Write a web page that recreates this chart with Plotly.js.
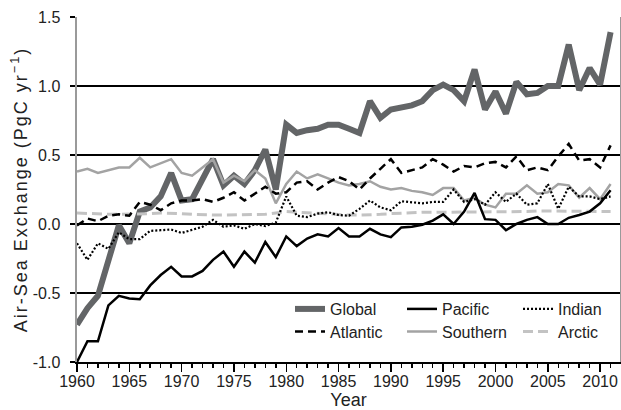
<!DOCTYPE html>
<html>
<head>
<meta charset="utf-8">
<script src="https://cdn.plot.ly/plotly-3.0.1.min.js"></script>
<style>
html, body { margin: 0; padding: 0; background: #fff; }
#chart { width: 621px; height: 410px; }
.ytitle { letter-spacing: 2px; }
</style>
</head>
<body>
<div id="chart"></div>
<script>
const years = [1960,1961,1962,1963,1964,1965,1966,1967,1968,1969,
  1970,1971,1972,1973,1974,1975,1976,1977,1978,1979,
  1980,1981,1982,1983,1984,1985,1986,1987,1988,1989,
  1990,1991,1992,1993,1994,1995,1996,1997,1998,1999,
  2000,2001,2002,2003,2004,2005,2006,2007,2008,2009,
  2010,2011];

const globalFlux = [-0.73,-0.61,-0.52,-0.26,-0.01,-0.14,0.09,0.12,0.20,0.37,
  0.17,0.18,0.32,0.47,0.28,0.35,0.29,0.39,0.54,0.25,
  0.72,0.66,0.68,0.69,0.72,0.72,0.69,0.66,0.89,0.77,
  0.83,0.84,0.86,0.89,0.97,1.01,0.97,0.89,1.12,0.83,
  0.96,0.80,1.03,0.94,0.95,1.00,1.00,1.30,0.97,1.13,
  1.01,1.39];

const pacific = [-1.00,-0.85,-0.85,-0.59,-0.52,-0.54,-0.545,-0.445,-0.37,-0.31,
  -0.38,-0.38,-0.34,-0.26,-0.20,-0.31,-0.20,-0.28,-0.13,-0.24,
  -0.09,-0.16,-0.105,-0.075,-0.09,-0.03,-0.09,-0.09,-0.035,-0.075,
  -0.095,-0.025,-0.02,-0.005,0.025,0.07,0.0,0.09,0.225,0.035,
  0.03,-0.045,0.0,0.03,0.05,0.0,0.0,0.045,0.065,0.09,
  0.15,0.245];

const indian = [-0.14,-0.26,-0.14,-0.18,-0.06,-0.11,-0.11,-0.05,-0.045,-0.04,
  -0.065,-0.045,-0.02,0.03,-0.02,-0.01,-0.035,0.0,-0.015,0.01,
  0.20,0.06,0.05,0.075,0.085,0.065,0.06,0.11,0.17,0.12,
  0.10,0.165,0.16,0.15,0.16,0.16,0.25,0.16,0.18,0.14,
  0.23,0.16,0.22,0.14,0.15,0.29,0.11,0.27,0.20,0.20,
  0.18,0.20];

const atlantic = [-0.01,0.04,0.02,0.06,0.07,0.06,0.16,0.14,0.10,0.15,
  0.17,0.17,0.18,0.16,0.19,0.23,0.17,0.22,0.27,0.22,
  0.23,0.30,0.31,0.25,0.30,0.34,0.31,0.25,0.33,0.40,
  0.47,0.37,0.39,0.41,0.47,0.43,0.38,0.42,0.41,0.44,
  0.45,0.41,0.49,0.39,0.41,0.39,0.49,0.58,0.46,0.47,
  0.41,0.57];

const southern = [0.38,0.40,0.37,0.39,0.41,0.41,0.48,0.41,0.44,0.47,
  0.37,0.35,0.41,0.47,0.30,0.35,0.31,0.39,0.33,0.15,
  0.29,0.38,0.33,0.36,0.33,0.30,0.28,0.29,0.31,0.27,
  0.25,0.26,0.24,0.23,0.21,0.26,0.26,0.17,0.19,0.14,
  0.12,0.22,0.22,0.28,0.22,0.23,0.29,0.28,0.19,0.26,
  0.18,0.29];

const arctic = [0.08,0.075,0.075,0.07,0.07,0.07,0.075,0.075,0.08,0.08,
  0.075,0.07,0.065,0.065,0.065,0.065,0.065,0.07,0.07,0.08,
  0.09,0.085,0.08,0.075,0.075,0.07,0.065,0.065,0.065,0.07,
  0.075,0.08,0.08,0.085,0.085,0.085,0.085,0.085,0.09,0.09,
  0.09,0.09,0.09,0.09,0.095,0.095,0.09,0.09,0.09,0.09,
  0.09,0.09];

const yTickVals = [-1.0,-0.5,0.0,0.5,1.0,1.5];
const yTickText = ["-1.0","-0.5","0.0","0.5","1.0","1.5"];
const xTickVals = [1960,1965,1970,1975,1980,1985,1990,1995,2000,2005,2010];
const xTickText = ["1960","1965","1970","1975","1980","1985","1990","1995","2000","2005","2010"];

const FONT = '"Liberation Sans", Arial, sans-serif';

const traces = [
  {name:'Global', x:years, y:globalFlux, mode:'lines', legend:'legend', legendrank:1, legendwidth:67,
   line:{color:'#636567', width:6}},
  {name:'Southern', x:years, y:southern, mode:'lines', legend:'legend2', legendrank:2, legendwidth:71,
   line:{color:'#a3a3a3', width:2.5}},
  {name:'Arctic', x:years, y:arctic, mode:'lines', legend:'legend2', legendrank:3, legendwidth:46,
   line:{color:'#c3c3c3', width:3, dash:'10px,5px'}},
  {name:'Atlantic', x:years, y:atlantic, mode:'lines', legend:'legend2', legendrank:1, legendwidth:67,
   line:{color:'#000000', width:2.5, dash:'8px,5px'}},
  {name:'Indian', x:years, y:indian, mode:'lines', legend:'legend', legendrank:3, legendwidth:46,
   line:{color:'#000000', width:2.2, dash:'2px,2px'}},
  {name:'Pacific', x:years, y:pacific, mode:'lines', legend:'legend', legendrank:2, legendwidth:71,
   line:{color:'#000000', width:2.5}}
];

const legendCommon = {
  orientation:'h', xref:'paper', yref:'paper', xanchor:'left', yanchor:'middle',
  bgcolor:'rgba(0,0,0,0)', borderwidth:0, font:{family:FONT, size:16, color:'#222'},
  entrywidthmode:'pixels', traceorder:'normal'
};

const layout = {
  width:621, height:410,
  margin:{l:77, r:1, t:17, b:48},
  paper_bgcolor:'#ffffff', plot_bgcolor:'#ffffff',
  font:{family:FONT, size:16, color:'#222'},
  showlegend:true,
  legend: Object.assign({}, legendCommon, {x:0.3923, y:0.1536}),
  legend2: Object.assign({}, legendCommon, {x:0.3923, y:0.0878}),
  xaxis:{
    range:[1960, 2011.9], tickmode:'array', tickvals:xTickVals, ticktext:xTickText,
    ticks:'outside', ticklen:8, tickwidth:1.5, tickcolor:'#000', ticklabelstandoff:-4,
    minor:{dtick:1, tick0:1960, ticks:'outside', ticklen:4, tickwidth:1.5, tickcolor:'#000', showgrid:false},
    showgrid:false, zeroline:false, showline:true, linecolor:'#000', linewidth:2,
    tickfont:{family:FONT, size:16, color:'#222'},
    title:{text:'Year', font:{family:FONT, size:18, color:'#222'}, standoff:0}
  },
  yaxis:{
    range:[-1.0, 1.5], tickmode:'array', tickvals:yTickVals, ticktext:yTickText,
    ticks:'outside', ticklen:5, tickwidth:1.5, tickcolor:'#000', ticklabelstandoff:6,
    showgrid:true, gridcolor:'#000', gridwidth:1.5, zeroline:false,
    showline:true, linecolor:'#9a9a9a', linewidth:2.5, mirror:true,
    tickfont:{family:FONT, size:16, color:'#222'},
    title:{text:'Air-Sea Exchange (PgC yr<sup>\u22121</sup>)', font:{family:FONT, size:18, color:'#222'}}
  }
};

Plotly.newPlot('chart', traces, layout, {staticPlot:true, displayModeBar:false});
</script>
</body>
</html>
